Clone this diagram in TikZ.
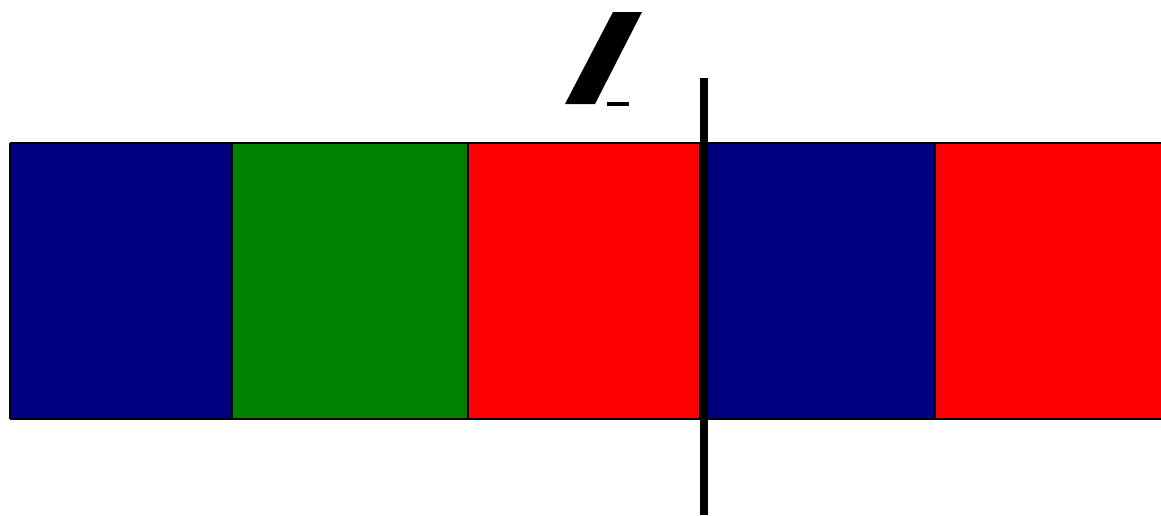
\documentclass[tikz,border=0pt]{standalone}
\usepackage{tikz}
\usetikzlibrary{positioning}
\definecolor{stripnavy}{RGB}{0,0,128}
\definecolor{stripgreen}{RGB}{0,128,0}
\definecolor{stripred}{RGB}{255,0,0}

\begin{document}
\begin{tikzpicture}[
    x=0.02cm, y=-0.02cm,
    edge/.style={draw=black, line width=1.1pt},
    cut/.style={draw=black, line width=4pt}
]
    \useasboundingbox (0,0) rectangle (1161,515);
    % colored strip
    \foreach \xa/\xb/\col in {10/232/stripnavy, 232/468/stripgreen, 468/700/stripred, 700/935/stripnavy, 935/1161/stripred}
        \fill[\col] (\xa,143) rectangle (\xb,419);
    \foreach \xa in {10,232,468,700,935}
        \draw[edge] (\xa,143) -- (\xa,419);
    \draw[edge] (10,143) -- (1161,143);
    \draw[edge] (10,419) -- (1161,419);
    % marker at the top
    \fill[black] (613,12) -- (642,12) -- (595,104) -- (565,104) -- cycle;
    \draw[black, line width=2.2pt] (607,104) -- (629,104);
    % vertical cut line
    \coordinate (cuttop) at (704,78);
    \coordinate (cutbot) at (704,515);
    \draw[cut] (cuttop) -- (cutbot);
\end{tikzpicture}
\end{document}
